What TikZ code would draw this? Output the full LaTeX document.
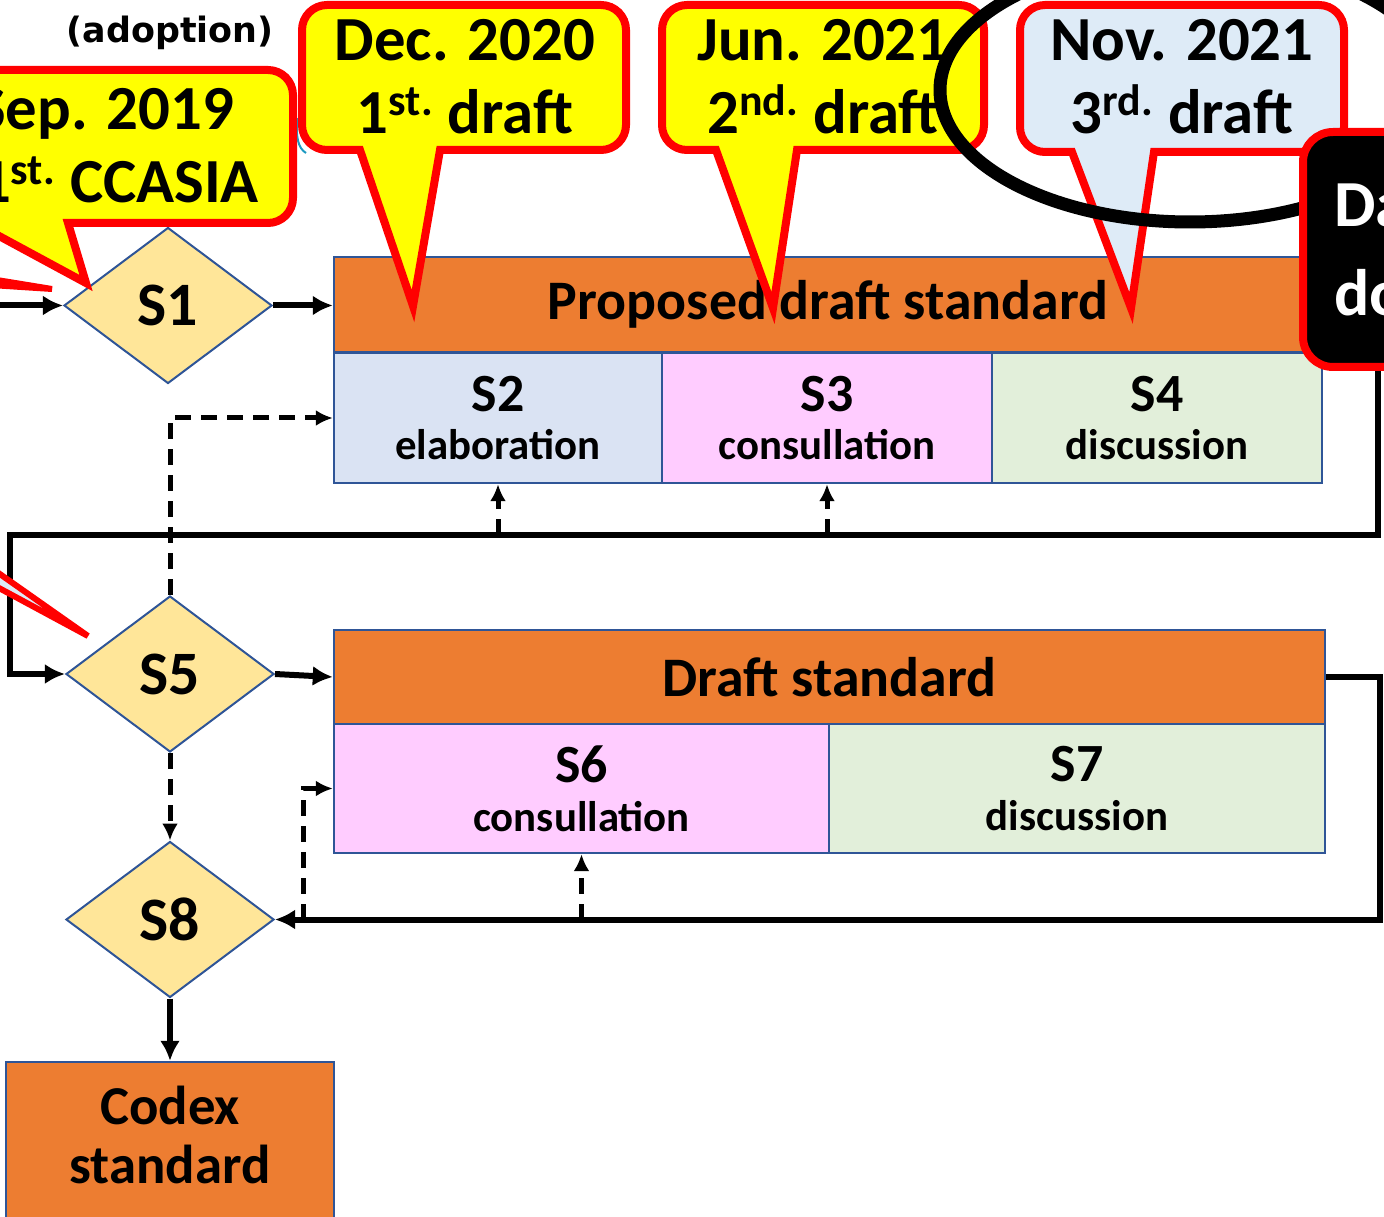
\documentclass[tikz,border=0pt]{standalone}
\usepackage{fontspec}
\setmainfont{Carlito}
\newfontfamily\adoptfont{DejaVu Sans}
\usetikzlibrary{shapes.geometric,arrows.meta}
\definecolor{boxorange}{HTML}{ED7D31}
\definecolor{diagold}{HTML}{FFE699}
\definecolor{edgeblue}{HTML}{2F5597}
\definecolor{cellblue}{HTML}{DAE3F3}
\definecolor{cellpink}{HTML}{FFCCFF}
\definecolor{cellgreen}{HTML}{E2EFDA}
\definecolor{noteblue}{HTML}{DEEBF7}
\definecolor{noteyellow}{HTML}{FFFF00}
\definecolor{notered}{HTML}{FF0000}
\begin{document}
\begin{tikzpicture}[x=0.5bp,y=-0.5bp,>={Latex[length=10bp,width=10bp]},line join=miter,
  decision/.style={diamond,draw=edgeblue,line width=1bp,fill=diagold,inner sep=0pt,minimum width=104bp,minimum height=78bp,font=\fontsize{31}{31}\selectfont\bfseries},
  header/.style={draw=edgeblue,line width=1.2bp,fill=boxorange,inner sep=0pt,minimum height=47.5bp,font=\fontsize{28}{28}\selectfont\bfseries},
  cell/.style={draw=edgeblue,line width=1.2bp,inner sep=0pt,minimum height=65bp,align=center,font=\fontsize{21.5}{24.5}\selectfont\bfseries},
  flow/.style={line width=3bp,->},
  aux/.style={line width=2.5bp,dash pattern=on 8bp off 5bp,-{Latex[length=8.5bp,width=8bp]}},
  callout/.style={draw=notered,line width=4bp,fill=noteyellow},
  notetext/.style={align=center,font=\fontsize{31.5}{36.5}\selectfont\bfseries},
]
\useasboundingbox (0,0) rectangle (1384,1217);
\clip (0,0) rectangle (1384,1217);
%%
\draw [edgeblue!60!cyan,line width=1bp] (297,118) .. controls (296,138) and (298,148) .. (306,153);
%
\node (node_s1) at (168,305.5) [decision] {S1};
\node (node_s5) at (170,674) [decision] {S5};
\node (node_s8) at (170,919.5) [decision] {S8};
\node (node_pds) at (828,304.5) [header,minimum width=494bp] {Proposed draft standard};
\node (node_s2) at (498,418) [cell,fill=cellblue,minimum width=164bp] {{\fontsize{27}{27}\selectfont S2}\\elaboration};
\node (node_s3) at (827,418) [cell,fill=cellpink,minimum width=165bp] {{\fontsize{27}{27}\selectfont S3}\\consullation};
\node (node_s4) at (1157,418) [cell,fill=cellgreen,minimum width=165bp] {{\fontsize{27}{27}\selectfont S4}\\discussion};
\node (node_ds) at (829.5,677) [header,minimum width=495.5bp,minimum height=47bp] {Draft standard};
\node (node_s6) at (581.5,788.5) [cell,fill=cellpink,minimum width=247.5bp,minimum height=64.5bp] {{\fontsize{27}{27}\selectfont S6}\\consullation};
\node (node_s7) at (1077,788.5) [cell,fill=cellgreen,minimum width=248bp,minimum height=64.5bp] {{\fontsize{27}{27}\selectfont S7}\\discussion};
\node (node_cs) at (170,1150) [draw=edgeblue,line width=1.2bp,fill=boxorange,minimum width=164bp,minimum height=88bp] {};
\node (node_cstext) at (170,1135) [align=center,font=\fontsize{27.5}{30}\selectfont\bfseries] {Codex\\standard};
%
\coordinate (in_s1) at (0,305.5);
\coordinate (loop_a) at (1378,535);
\coordinate (loop_b) at (10,535);
\coordinate (loop_c) at (1380,919.5);
\coordinate (tap_s8) at (303,919.5);
\draw [flow] (in_s1) -- (node_s1.west);
\draw [flow] (node_s1.east) -- (node_pds.west |- node_s1.east);
\draw [flow] (node_pds.east) -| (loop_a) -- (loop_b) |- (node_s5.west);
\draw [aux] (node_s2.south |- loop_a) -- (node_s2.south);
\draw [aux] (node_s3.south |- loop_a) -- (node_s3.south);
\draw [aux] (node_s5.north) |- (node_s2.west);
\draw [flow] (node_s5.east) -- (node_ds.west);
\draw [aux] (node_s5.south) -- (node_s8.north);
\draw [flow] (node_ds.east) -| (loop_c) -- (node_s8.east);
\draw [aux] (tap_s8) |- (node_s6.west);
\draw [aux] (node_s6.south |- loop_c) -- (node_s6.south);
\draw [flow] (node_s8.south) -- (node_cs.north);
%
\draw [callout] (-40,70) [rounded corners=12.5bp] -- (293,70) -- (293,223) [sharp corners] -- (68,223) -- (86,283) -- (-25,223) -- (-40,223) -- cycle;
\node (note_sep) at (119,146) [notetext] {Sep. 2019\hspace*{14bp}\\1\textsuperscript{st.} CCASIA};
\draw [callout] (302,80) [rounded corners=12.5bp] -- (302,5) -- (626,5) -- (626,150) [sharp corners] -- (440,150) -- (413,306) -- (360,150) [rounded corners=12.5bp] -- (302,150) -- cycle;
\node (note_dec) at (465,77) [notetext] {Dec. 2020\\1\textsuperscript{st.} draft};
\draw [callout] (662,80) [rounded corners=12.5bp] -- (662,5) -- (984,5) -- (984,150) [sharp corners] -- (797,150) -- (773,308) -- (716,150) [rounded corners=12.5bp] -- (662,150) -- cycle;
\node (note_jun) at (823,77) [notetext] {Jun. 2021\\2\textsuperscript{nd.} draft};
\draw [callout,fill=noteblue] (1020,80) [rounded corners=12.5bp] -- (1020,5) -- (1344,5) -- (1344,152) [sharp corners] -- (1154,152) -- (1131,308) -- (1072,152) [rounded corners=12.5bp] -- (1020,152) -- cycle;
\node (note_nov) at (1182,77) [notetext] {Nov. 2021\\3\textsuperscript{rd.} draft};
\node (note_adopt) at (170,33) [font=\adoptfont\fontsize{17.5}{17.5}\selectfont\bfseries] {(adoption)};
%
\draw [line width=6.5bp] (1190,90) ellipse [x radius=250, y radius=132];
\draw [draw=notered,line width=4bp,fill=black,rounded corners=15bp] (1303,132) rectangle (1450,367);
\node (note_d) at (1327,250) [anchor=west,align=left,text=white,font=\fontsize{33}{45}\selectfont\bfseries] {Da\\do};
%
\draw [draw=notered,line width=3bp,fill=notered,line join=bevel] (-40,274) -- (52,289) -- (-40,283) -- cycle;
\draw [draw=notered,line width=3bp,fill=noteblue,line join=bevel] (-40,546) -- (88,636) -- (-40,567) -- cycle;
%
\end{tikzpicture}
\end{document}
